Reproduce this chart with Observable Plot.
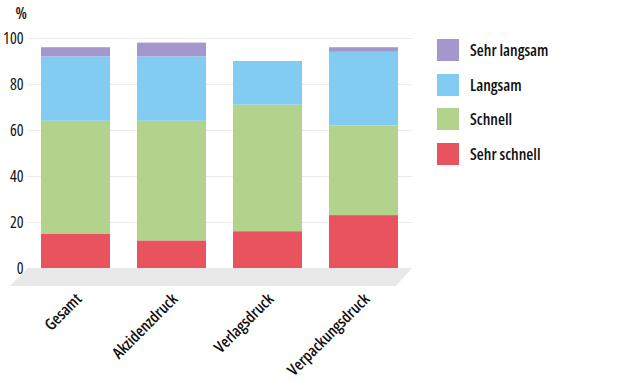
<!DOCTYPE html>
<html>
<head>
<meta charset="utf-8">
<script src="https://cdn.jsdelivr.net/npm/d3@7"></script>
<script src="https://cdn.jsdelivr.net/npm/@observablehq/plot@0.6"></script>
<style>
  html, body { margin: 0; padding: 0; background: #fff; }
  #wrap { position: relative; width: 620px; height: 380px; font-family: "Open Sans", sans-serif; font-stretch: 75%; }
  #wrap svg { font-stretch: 75%; }
  #legend { position: absolute; left: 437px; top: 39px; }
  .row { display: flex; align-items: center; height: 22px; margin-bottom: 12.5px; }
  .sw { width: 22px; height: 22px; margin-right: 11px; }
  .lab { font-size: 16px; color: #111; font-weight: 600; font-stretch: 75%; }
</style>
</head>
<body>
<div id="wrap"></div>
<script>
const categories = ["Gesamt", "Akzidenzdruck", "Verlagsdruck", "Verpackungsdruck"];
const series = ["Sehr schnell", "Schnell", "Langsam", "Sehr langsam"];
const sehrSchnell = [15, 12, 16, 23];
const schnell = [49, 52, 55, 39];
const langsam = [28, 28, 19, 32];
const sehrLangsam = [4, 6, 0, 2];
const yTicks = [0, 20, 40, 60, 80, 100];
const colors = ["#e8535f", "#b3d38c", "#82ccf2", "#a397cd"];

const seriesValues = [sehrSchnell, schnell, langsam, sehrLangsam];
const rows = [];
series.forEach((s, si) => categories.forEach((c, ci) => rows.push({kategorie: c, serie: s, wert: seriesValues[si][ci]})));

function floorMark(index, scales, values, dims) {
  const y0 = scales.y(0);
  const x0 = dims.marginLeft, x1 = dims.width - dims.marginRight;
  const poly = document.createElementNS("http://www.w3.org/2000/svg", "polygon");
  poly.setAttribute("points", `${x0},${y0} ${x1},${y0} ${x1 - 16},${y0 + 18} ${x0 - 18},${y0 + 18}`);
  poly.setAttribute("fill", "#e8e8e8");
  return poly;
}

const chart = Plot.plot({
  width: 620,
  height: 380,
  marginLeft: 28,
  marginRight: 208,
  marginTop: 38,
  marginBottom: 112,
  style: {fontFamily: '"Open Sans", sans-serif', fontSize: "16px", color: "#111", background: "#fff", overflow: "visible"},
  x: {domain: categories, paddingInner: 0.28, paddingOuter: 0.14, label: null},
  y: {domain: [0, 100], label: null},
  color: {domain: series, range: colors},
  marks: [
    Plot.ruleY(yTicks.filter(d => d > 0), {stroke: "#ebebeb", strokeWidth: 1.2}),
    floorMark,
    Plot.barY(rows, {x: "kategorie", y: "wert", fill: "serie"}),
    Plot.axisY({ticks: yTicks, tickSize: 0, tickPadding: 5, fontSize: 16, fontWeight: 500, label: null}),
    Plot.axisX({tickSize: 0, tickRotate: -45, tickPadding: 28, dx: 3, fontSize: 16, fontWeight: 600, label: null}),
    Plot.text(["%"], {frameAnchor: "top-left", textAnchor: "start", lineAnchor: "top", dx: -13, dy: -31, text: d => d, fontSize: 16, fontWeight: 600, fill: "#111"})
  ]
});

const wrap = document.getElementById("wrap");
wrap.appendChild(chart);
const legend = document.createElement("div");
legend.id = "legend";
[...series].reverse().forEach(s => {
  const row = document.createElement("div");
  row.className = "row";
  const sw = document.createElement("div");
  sw.className = "sw";
  sw.style.background = colors[series.indexOf(s)];
  const lab = document.createElement("span");
  lab.className = "lab";
  lab.textContent = s;
  row.appendChild(sw); row.appendChild(lab);
  legend.appendChild(row);
});
wrap.appendChild(legend);
</script>
</body>
</html>
